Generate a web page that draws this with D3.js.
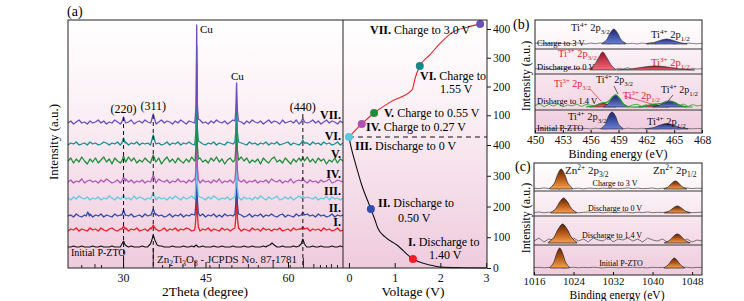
<!DOCTYPE html>
<meta charset="UTF-8">
<style>
body { margin: 0; background: #fff; }
svg text { font-family: "Liberation Serif", "Times New Roman", serif; }
</style>
<body>
<script src="https://d3js.org/d3.v7.min.js"></script>
<script>
// ---------------- data : panel (a) XRD ----------------
// baseline noise read off every 0.5 deg from 20 to 70
var noiseInit = [1,1,2,1,1,2,1,1,1,2, 1,1,2,1,1,1,2,1,1,1, 2,1,1,2,1,1,1,2,1,1, 1,2,1,1,2,1,1,1,2,1, 1,1,2,1,1,2,1,1,1,2,
                 1,1,1,2,1,1,2,1,1,1, 2,1,1,1,2,1,1,2,1,1, 1,2,1,1,1,2,1,1,2,1, 1,1,2,1,1,2,1,1,1,2, 1,1,2,1,1,1,2,1,1,2, 1];
var noiseI = [1,3,2,4,1,3,2,1,4,2, 3,1,4,2,1,3,4,2,1,3, 2,4,1,3,2,4,1,2,3,1, 4,2,3,1,2,4,1,3,2,4, 1,3,2,4,3,1,2,4,1,3,
              2,4,1,3,2,1,4,2,3,1, 3,2,4,1,3,2,1,4,2,3, 1,4,2,3,1,3,2,4,1,2, 3,1,4,2,3,1,2,4,1,3, 2,3,1,4,2,3,1,2,4,1, 2];
var noiseII = [2,3,1,4,2,1,3,2,4,1, 3,2,4,1,3,2,1,4,2,3, 1,3,2,4,1,2,3,1,4,2, 3,1,4,2,3,1,2,4,1,3, 2,4,1,3,2,4,3,1,2,4,
               1,3,2,4,1,3,1,4,2,3, 2,1,4,3,1,2,4,1,3,2, 4,1,3,2,4,2,1,3,4,1, 3,2,1,4,2,3,1,4,2,3, 1,4,2,3,1,2,4,1,3,2, 3];
var noiseIII = [3,1,4,2,5,3,2,4,1,3, 2,4,1,3,2,5,3,1,4,2, 4,2,3,1,5,2,4,3,1,3, 2,5,1,4,2,3,1,4,2,5, 3,1,4,2,3,5,2,1,4,3,
                1,4,2,5,3,1,3,2,4,1, 3,2,5,1,4,2,3,1,4,2, 5,3,1,4,2,3,5,1,2,4, 2,4,1,3,5,2,1,4,3,2, 4,1,3,2,5,1,4,2,3,1, 3];
var noiseIV = [2,4,1,3,2,5,1,3,4,2, 3,1,4,2,5,3,1,2,4,1, 3,5,2,4,1,3,2,4,1,3, 2,4,1,5,3,2,4,1,3,2, 5,2,3,1,4,2,5,3,1,4,
               2,3,1,4,2,5,1,3,2,4, 1,3,5,2,4,1,3,2,4,1, 3,2,4,1,5,3,2,4,1,3, 2,5,1,3,4,2,3,1,4,2, 3,1,4,2,3,5,1,2,4,3, 2];
var noiseV = [3,6,1,5,2,7,3,0,5,2, 6,1,4,7,2,5,0,6,3,1, 5,2,7,3,6,1,4,2,6,3, 1,5,2,6,0,4,7,2,5,1, 6,3,1,5,2,7,3,0,6,2,
              4,1,6,3,7,2,5,0,4,6, 2,5,1,7,3,6,1,4,2,5, 0,6,3,1,5,7,2,4,1,6, 3,0,5,2,6,4,1,7,2,5, 1,6,3,5,0,4,2,6,1,5, 3];
var noiseVI = [1,3,2,4,1,2,3,1,4,2, 3,1,2,4,3,1,3,2,4,1, 2,4,1,3,2,4,1,3,2,3, 1,4,2,3,1,2,4,1,3,2, 4,1,3,2,4,2,1,3,4,2,
               1,3,2,4,1,3,2,1,4,3, 2,4,1,3,2,1,4,2,3,1, 3,2,4,1,3,2,4,1,2,3, 4,1,3,2,1,4,2,3,1,4, 2,3,1,4,2,3,1,2,4,1, 3];
var noiseVII = [2,4,1,3,5,2,3,1,4,2, 3,5,2,4,1,3,2,5,3,1, 4,2,3,5,1,3,4,2,5,3, 2,4,1,3,5,2,4,3,1,4, 2,5,3,1,4,3,2,4,5,2,
                3,1,4,2,5,3,2,4,1,3, 5,2,4,3,1,4,2,5,3,2, 4,1,3,5,2,4,3,1,5,2, 3,4,2,5,1,3,4,2,3,5, 2,4,1,3,5,2,4,3,1,4, 2];

// peak clusters [2theta, intensity] for each pattern
var peaksInit = [[[29.6,2],[29.9,5],[30.1,7],[30.4,3],[30.8,1.5]],
  [[34.6,2],[35.0,4],[35.3,9],[35.5,13],[35.8,8],[36.2,3],[36.6,2]],
  [[42.9,1],[43.3,3],[43.7,1]],
  [[56.2,2],[56.7,3],[57.1,5],[57.5,3],[58.0,1]],
  [[62.0,2],[62.4,4],[62.7,9],[63.0,4],[63.4,1]]];
var peaksI = [[[29.8,3],[30.1,6],[30.4,3]], [[35.1,3],[35.5,7],[35.9,3]],
  [[43.1,4],[43.3,18],[43.4,100],[43.5,20],[43.7,5]], [[50.35,4],[50.5,14],[50.65,42],[50.8,14],[51.0,4]],
  [[62.4,3],[62.7,5],[63.0,3]]];
var peaksII = [[[23.3,2],[23.6,6],[23.9,2]], [[29.8,3],[30.1,8],[30.4,3]], [[35.1,3],[35.5,9],[35.9,3]],
  [[43.1,4],[43.3,18],[43.4,100],[43.5,20],[43.7,5]], [[50.35,4],[50.5,14],[50.65,42],[50.8,14],[51.0,4]],
  [[62.4,3],[62.7,6],[63.0,3]]];
var peaksIII = [[[29.8,3],[30.1,6],[30.4,3]], [[35.1,3],[35.5,8],[35.9,3]],
  [[43.1,4],[43.3,18],[43.4,100],[43.5,20],[43.7,5]], [[50.35,4],[50.5,14],[50.65,40],[50.8,14],[51.0,4]],
  [[62.4,3],[62.7,5],[63.0,3]]];
var peaksIV = [[[29.8,3],[30.1,7],[30.4,3]], [[35.1,3],[35.5,9],[35.9,3]],
  [[43.1,4],[43.3,18],[43.4,100],[43.5,20],[43.7,5]], [[50.35,4],[50.5,14],[50.65,42],[50.8,14],[51.0,4]],
  [[62.4,3],[62.7,6],[63.0,3]]];
var peaksV = [[[29.8,3],[30.1,8],[30.4,3]], [[35.1,3],[35.5,9],[35.9,3]],
  [[43.1,4],[43.3,18],[43.4,100],[43.5,20],[43.7,5]], [[50.35,4],[50.5,14],[50.65,43],[50.8,14],[51.0,4]],
  [[62.4,3],[62.7,7],[63.0,3]]];
var peaksVI = [[[29.8,3],[30.1,8],[30.4,3]], [[35.1,3],[35.5,11],[35.9,3]],
  [[43.1,4],[43.3,18],[43.4,100],[43.5,20],[43.7,5]], [[50.35,4],[50.5,14],[50.65,42],[50.8,14],[51.0,4]],
  [[62.4,3],[62.7,6],[63.0,3]]];
var peaksVII = [[[29.8,3],[30.1,8],[30.4,3]], [[35.1,3],[35.5,11],[35.9,3]],
  [[43.1,5],[43.3,20],[43.4,100],[43.5,22],[43.7,6]], [[50.35,4],[50.5,14],[50.65,42],[50.8,14],[51.0,4]],
  [[62.4,3],[62.7,7],[63.0,3]]];

var xrdLabels  = ["", "I.", "II.", "III.", "IV.", "V.", "VI.", "VII."];
var xrdOffsets = [20, 36, 50, 67, 84, 104, 122, 143];
var xrdColors  = ["#111111", "#ee1c25", "#2f4aa8", "#62c9e3", "#b155b5", "#1e8c3a", "#138f8c", "#6b4fbf"];
var xrdNoise   = [noiseInit, noiseI, noiseII, noiseIII, noiseIV, noiseV, noiseVI, noiseVII];
var xrdPeaks   = [peaksInit, peaksI, peaksII, peaksIII, peaksIV, peaksV, peaksVI, peaksVII];

var jcpdsPos     = [22.5, 24.9, 26.1, 30.1, 35.5, 37.2, 38.5, 40.9, 43.1, 45.8, 47.5, 49.8, 52.8, 54.6, 57.3, 60.4, 62.8, 64.7, 65.9, 67.0, 67.9, 69.0];
var jcpdsHeights = [3, 4, 3, 12, 20, 3, 4, 4, 7, 3, 4, 3, 4, 3, 7, 3, 10, 4, 3, 3, 4, 3];
var hklLabels = ["(220)", "(311)", "(440)"];
var hklPos    = [30.1, 35.5, 62.7];

// ---------------- data : voltage profile ----------------
var dischargeV   = [0.0, 0.06, 0.15, 0.28, 0.48, 0.57, 0.63, 0.79, 1.05, 1.4, 1.77, 2.0, 2.5, 3.0];
var dischargeCap = [426, 385, 336, 270, 192, 156, 130, 101, 75, 29, 10, 3, 1, 0];
var chargeV   = [0.0, 0.28, 0.55, 0.95, 1.38, 1.45, 1.55, 1.77, 2.0, 2.28, 2.6, 2.87];
var chargeCap = [24, 70, 108, 150, 188, 230, 271, 310, 351, 390, 407, 417];
// state markers: voltage, capacity, on which branch
var stateNames = ["I.", "II.", "III.", "IV.", "V.", "VI.", "VII."];
var stateV     = [1.40, 0.48, 0.0, 0.28, 0.55, 1.55, 2.87];
var stateCap   = [29, 192, 426, 70, 108, 271, 417];
var stateBranch = ["d", "d", "d", "c", "c", "c", "c"];
var stateColors = ["#ee1c25", "#2f4cb0", "#5fc6e0", "#b14fb3", "#1e8c3a", "#138a86", "#6a4fbf"];

// ---------------- data : XPS Ti 2p (b) ----------------
var tiRowLabels = ["Charge to 3 V", "Discharge to 0 V", "Disharge to 1.4 V", "Initial P-ZTO"];
var tiRowBase = [89, 63, 26, 4];
var tiNoise1 = [0.6,1.2,0.3,0.9,0.1,1.0,0.4,0.8,0.2,1.1, 0.5,0.0,0.9,0.3,1.0,0.6,0.2,0.8,0.4,1.1, 0.3,0.7,0.0,0.9,0.5,1.2,0.2,0.8,0.4,1.0, 0.1,0.7,0.3,0.9,0.5,0.2,0.8];
var tiNoise2 = [1.0,2.0,0.5,1.6,0.2,1.8,0.9,2.2,0.4,1.5, 1.1,0.3,1.9,0.8,2.1,0.6,1.4,0.2,1.7,1.0, 2.3,0.5,1.6,0.9,2.0,0.4,1.8,1.2,0.3,1.5, 2.0,0.7,1.3,0.2,1.7,0.9,1.4];
var tiNoise3 = [1.5,3.0,0.4,2.6,1.0,3.2,0.2,2.0,1.2,2.8, 0.5,2.4,1.8,0.3,2.2,1.0,3.0,0.6,1.6,2.5, 0.2,1.9,2.8,0.8,2.3,0.4,3.1,1.1,2.6,0.3, 2.2,1.4,3.0,0.6,2.4,1.0,2.0];
var tiNoise4 = [0.3,0.7,0.2,0.6,0.1,0.8,0.4,0.5,0.2,0.7, 0.3,0.6,0.1,0.8,0.4,0.2,0.7,0.3,0.6,0.2, 0.8,0.4,0.1,0.7,0.3,0.6,0.2,0.5,0.8,0.3, 0.6,0.1,0.7,0.4,0.2,0.6,0.3];
var tiNoise = [tiNoise1, tiNoise2, tiNoise3, tiNoise4];

var ti1a = [[457.2,0.5],[457.7,4],[458.1,11],[458.5,15],[458.9,11],[459.3,4],[459.8,0.5]];
var ti1b = [[462.0,0.2],[462.8,1.4],[463.5,3.6],[464.2,5],[464.9,3.6],[465.6,1.4],[466.4,0.2]];
var ti2a = [[455.9,0.5],[456.4,5],[456.9,13],[457.3,18],[457.7,13],[458.2,5],[458.7,0.5]];
var ti2b = [[458.8,0.1],[460.4,1.1],[461.7,2.9],[463.0,4],[464.3,2.9],[465.6,1.1],[467.2,0.1]];
var ti3a = [[455.9,0.1],[456.4,1.1],[456.9,2.9],[457.3,4],[457.7,2.9],[458.2,1.1],[458.7,0.1]];
var ti3b = [[457.4,0.4],[457.9,3.4],[458.3,8.8],[458.7,12],[459.1,8.8],[459.5,3.4],[460.0,0.4]];
var ti3c = [[461.2,0.1],[461.8,0.7],[462.3,1.8],[462.8,2.5],[463.3,1.8],[463.8,0.7],[464.4,0.1]];
var ti3d = [[462.7,0.2],[463.4,1.7],[463.9,4.4],[464.5,6],[465.1,4.4],[465.6,1.7],[466.3,0.2]];
var ti3fit = [[455.5,0],[456.4,1.1],[456.9,2.9],[457.3,4.2],[457.7,4.5],[458.0,6.3],[458.3,9.6],[458.7,12.2],[459.1,8.8],
              [459.5,3.4],[460.0,0.4],[460.5,0],[461.2,0.1],[461.8,0.7],[462.3,1.8],[462.8,2.8],[463.3,3.2],[463.8,4.3],
              [464.2,5.7],[464.5,6],[465.1,4.4],[465.6,1.7],[466.3,0.2],[467.0,0]];
var ti4a = [[457.1,0.5],[457.6,4.8],[457.9,12.4],[458.3,17],[458.7,12.4],[459.0,4.8],[459.5,0.5]];
var ti4b = [[461.9,0.2],[462.8,1.5],[463.5,4],[464.2,5.5],[464.9,4],[465.6,1.5],[466.5,0.2]];
// [profile, row, kind]
var tiPeaks = [[ti1a,0,"b"],[ti1b,0,"b"],[ti2a,1,"r"],[ti2b,1,"r"],[ti3a,2,"r"],[ti3b,2,"b"],[ti3c,2,"r"],[ti3d,2,"b"],[ti4a,3,"b"],[ti4b,3,"b"]];

// ---------------- data : XPS Zn 2p (c) ----------------
var znRowLabels = ["Charge to 3 V", "Discharge to 0 V", "Discharge to 1.4 V", "Initial P-ZTO"];
var znRowBase = [86, 62, 32, 7];
var znNoise1 = [0.8,0.3,1.1,0.5,0.9,0.2,0.7,1.0,0.4,0.8, 0.1,0.9,0.6,0.3,1.0,0.5,0.8,0.2,0.7,1.1, 0.4,0.9,0.3,0.6,1.0,0.2,0.8,0.5,0.9,0.3, 0.7,1.0,0.4,0.8,0.5];
var znNoise2 = [0.5,1.0,0.2,0.8,0.4,1.1,0.3,0.7,0.9,0.2, 0.6,1.0,0.4,0.8,0.1,0.9,0.5,0.3,1.0,0.6, 0.2,0.8,0.4,1.1,0.3,0.7,0.5,0.9,0.2,0.8, 0.4,1.0,0.3,0.6,0.8];
var znNoise3 = [2,5,1,4,3,6,1,3,5,2, 4,1,5,3,2,6,1,4,3,5, 2,4,1,5,3,2,4,1,3,5, 2,4,1,3,2];
var znNoise4 = [0.4,0.7,0.2,0.6,0.3,0.8,0.1,0.5,0.7,0.2, 0.6,0.3,0.8,0.4,0.1,0.7,0.5,0.2,0.6,0.4, 0.8,0.3,0.5,0.1,0.7,0.4,0.6,0.2,0.8,0.3, 0.5,0.7,0.2,0.6,0.4];
var znNoise = [znNoise1, znNoise2, znNoise3, znNoise4];

var zn1a = [[1019.2,0.6],[1020.1,5.6],[1020.8,14.6],[1021.5,20],[1022.2,14.6],[1022.9,5.6],[1023.8,0.6]];
var zn1b = [[1042.3,0.2],[1043.2,2.2],[1043.9,5.8],[1044.6,8],[1045.3,5.8],[1046.0,2.2],[1046.9,0.2]];
var zn2a = [[1019.4,0.5],[1020.4,4.2],[1021.2,11],[1022.0,15],[1022.8,11],[1023.6,4.2],[1024.6,0.5]];
var zn2b = [[1042.4,0.2],[1043.4,2],[1044.2,5.1],[1045.0,7],[1045.8,5.1],[1046.6,2],[1047.6,0.2]];
var zn3a = [[1018.9,0.6],[1020.0,5.4],[1020.9,13.9],[1021.8,19],[1022.7,13.9],[1023.6,5.4],[1024.7,0.6]];
var zn3b = [[1042.4,0.3],[1043.4,2.5],[1044.2,6.6],[1045.0,9],[1045.8,6.6],[1046.6,2.5],[1047.6,0.3]];
var zn4a = [[1019.25,0.6],[1020.0,5.6],[1020.6,14.6],[1021.2,20],[1021.8,14.6],[1022.4,5.6],[1023.15,0.6]];
var zn4b = [[1042.3,0.3],[1043.1,2.8],[1043.8,7.3],[1044.4,10],[1045.0,7.3],[1045.7,2.8],[1046.5,0.3]];
var znPeaks = [[zn1a,0],[zn1b,0],[zn2a,1],[zn2b,1],[zn3a,2],[zn3b,2],[zn4a,3],[zn4b,3]];

// ---------------- drawing ----------------
var svg = d3.select("body").append("svg").attr("width", 744).attr("height", 301);
var defs = svg.append("defs");
var fmt = d3.format("d");

function vGrad(id, stops) {
  var g = defs.append("linearGradient").attr("id", id).attr("x1", 0).attr("y1", 0).attr("x2", 0).attr("y2", 1);
  stops.forEach(function(s) { g.append("stop").attr("offset", s[0]).attr("stop-color", s[1]); });
}
vGrad("bgPink", [[0, "#ffffff"], [0.3, "#fcf3f7"], [1, "#efcbdd"]]);
vGrad("bgPink2", [[0, "#ffffff"], [1, "#efcbdd"]]);
vGrad("blueFill", [[0, "#1b2370"], [1, "#6680d4"]]);
vGrad("redFill", [[0, "#9a1224"], [1, "#f36a7a"]]);
vGrad("orangeFill", [[0, "#5a2406"], [0.5, "#b85a18"], [1, "#f7a24e"]]);

// rich text with superscripts / subscripts
function rich(sel, x, y, parts, size, fill) {
  var t = sel.append("text").attr("x", x).attr("y", y).attr("font-size", size)
    .attr("fill", fill || "#111").style("white-space", "pre");
  var shift = 0;
  parts.forEach(function(p) {
    var target = p[1] === "sup" ? -size * 0.38 : p[1] === "sub" ? size * 0.28 : 0;
    t.append("tspan").attr("dy", target - shift)
      .attr("font-size", p[1] ? size * 0.68 : size).text(p[0]);
    shift = target;
  });
  return t;
}
function tiLabel(ion, orb) { return [["Ti"], [ion, "sup"], [" 2p"], [orb, "sub"]]; }

function styleAxis(g, size) {
  g.select(".domain").remove();
  g.attr("font-family", "Liberation Serif, serif").attr("font-size", size);
  g.selectAll("text").attr("fill", "#111");
  g.selectAll("line").attr("stroke", "#111");
}

// ===== panel (a) left: XRD =====
var xA = d3.scaleLinear().domain([20, 70]).range([68, 343]);
var yA = d3.scaleLinear().domain([0, 248]).range([268, 20]);

svg.append("rect").attr("x", 68).attr("y", 20).attr("width", 275).attr("height", 248).attr("fill", "url(#bgPink)");
defs.append("clipPath").attr("id", "clipA").append("rect").attr("x", 68).attr("y", 20).attr("width", 275).attr("height", 248);
var gA = svg.append("g").attr("clip-path", "url(#clipA)");

// JCPDS sticks
gA.selectAll(".stick").data(jcpdsPos).enter().append("line")
  .attr("x1", function(d) { return xA(d); }).attr("x2", function(d) { return xA(d); })
  .attr("y1", yA(0)).attr("y2", function(d, i) { return yA(jcpdsHeights[i]); })
  .attr("stroke", "#222").attr("stroke-width", 1);

var lineA = d3.line().x(function(d) { return xA(d[0]); }).y(function(d) { return yA(d[1]); });
xrdNoise.forEach(function(noise, i) {
  var clusters = xrdPeaks[i];
  var pts = noise.map(function(v, k) { return [20 + k * 0.5, v]; }).filter(function(p) {
    return !clusters.some(function(c) { return p[0] >= c[0][0] && p[0] <= c[c.length - 1][0]; });
  });
  clusters.forEach(function(c) { pts = pts.concat(c); });
  pts.sort(function(a, b) { return a[0] - b[0]; });
  var off = xrdOffsets[i];
  gA.append("path").datum(pts.map(function(p) { return [p[0], p[1] + off]; }))
    .attr("d", lineA).attr("fill", "none").attr("stroke", xrdColors[i])
    .attr("stroke-width", i === 0 ? 1.1 : 1.3).attr("stroke-linejoin", "round");
});

// dashed reference lines + hkl labels
var hklTop = [117, 115, 114];
hklPos.forEach(function(p, i) {
  gA.append("line").attr("x1", xA(p)).attr("x2", xA(p)).attr("y1", hklTop[i]).attr("y2", yA(0))
    .attr("stroke", "#111").attr("stroke-width", 1).attr("stroke-dasharray", "4,3");
});
var hklY = [113, 110, 111];
hklLabels.forEach(function(t, i) {
  svg.append("text").attr("x", xA(hklPos[i])).attr("y", hklY[i]).attr("text-anchor", "middle")
    .attr("font-size", 12).text(t);
});
svg.append("text").attr("x", 200).attr("y", 33).attr("font-size", 11).text("Cu");
svg.append("text").attr("x", 231).attr("y", 80).attr("font-size", 11).text("Cu");

// roman numerals at right
xrdLabels.forEach(function(t, i) {
  if (!t) return;
  svg.append("text").attr("x", 341).attr("y", yA(xrdOffsets[i] + 6)).attr("text-anchor", "end")
    .attr("font-size", 12).attr("font-weight", "bold").text(t);
});
svg.append("text").attr("x", 71).attr("y", 256).attr("font-size", 10).text("Initial P-ZTO");
rich(svg, 157, 263, [["Zn"], ["2", "sub"], ["Ti"], ["3", "sub"], ["O"], ["8", "sub"], [" - JCPDS No. 87-1781"]], 11);

var axA = svg.append("g").attr("transform", "translate(0,268)")
  .call(d3.axisBottom(xA).tickValues([30, 45, 60]).tickFormat(fmt).tickSize(-6).tickPadding(5));
styleAxis(axA, 12);
svg.append("text").attr("x", 205).attr("y", 296).attr("text-anchor", "middle").attr("font-size", 13.5).text("2Theta (degree)");
svg.append("text").attr("transform", "translate(58,142) rotate(-90)").attr("text-anchor", "middle")
  .attr("font-size", 13).text("Intensity (a.u.)");
svg.append("text").attr("x", 67).attr("y", 16).attr("font-size", 14).text("(a)");

// ===== panel (a) right: voltage profile =====
var xV = d3.scaleLinear().domain([-0.13, 3.02]).range([343, 487]);
var capUp = d3.scaleLinear().domain([0, 400]).range([144, 29]);
var capLow = d3.scaleLinear().domain([0, 400]).range([268, 145]);

svg.append("rect").attr("x", 343).attr("y", 20).attr("width", 144).attr("height", 248).attr("fill", "url(#bgPink)");
defs.append("clipPath").attr("id", "clipV").append("rect").attr("x", 343).attr("y", 18).attr("width", 146).attr("height", 252);
var gV = svg.append("g").attr("clip-path", "url(#clipV)");

var dis = dischargeV.map(function(v, i) { return [v, dischargeCap[i]]; }).sort(function(a, b) { return a[0] - b[0]; });
var chg = chargeV.map(function(v, i) { return [v, chargeCap[i]]; });
gV.append("path").datum(dis)
  .attr("d", d3.line().x(function(d) { return xV(d[0]); }).y(function(d) { return capLow(d[1]); }).curve(d3.curveMonotoneX))
  .attr("fill", "none").attr("stroke", "#111").attr("stroke-width", 1.1);
gV.append("path").datum(chg)
  .attr("d", d3.line().x(function(d) { return xV(d[0]); }).y(function(d) { return capUp(d[1]); }).curve(d3.curveMonotoneX))
  .attr("fill", "none").attr("stroke", "#ee1c25").attr("stroke-width", 1.1);
gV.append("line").attr("x1", xV(0)).attr("x2", 487).attr("y1", capLow(426)).attr("y2", capLow(426))
  .attr("stroke", "#111").attr("stroke-width", 1.1).attr("stroke-dasharray", "5,4");

gV.selectAll(".state").data(stateV).enter().append("circle")
  .attr("cx", function(d) { return xV(d); })
  .attr("cy", function(d, i) { return stateBranch[i] === "d" ? capLow(stateCap[i]) : capUp(stateCap[i]); })
  .attr("r", 4).attr("fill", function(d, i) { return stateColors[i]; });

// state annotations
function stateText(x, y, num, rest) {
  var t = svg.append("text").attr("x", x).attr("y", y).attr("font-size", 12).style("white-space", "pre");
  if (num) t.append("tspan").attr("font-weight", "bold").text(num + " ");
  t.append("tspan").text(rest);
}
stateText(370, 34, "VII.", "Charge to 3.0 V");
stateText(420, 80, "VI.", "Charge to");
stateText(440, 93, "", "1.55 V");
stateText(384, 117, "V.", "Charge to 0.55 V");
stateText(366, 131, "IV.", "Charge to 0.27 V");
stateText(355, 150, "III.", "Discharge to 0 V");
stateText(378, 207, "II.", "Discharge to");
stateText(398, 222, "", "0.50 V");
stateText(408, 246, "I.", "Discharge to");
stateText(429, 259, "", "1.40 V");

var axVb = svg.append("g").attr("transform", "translate(0,268)")
  .call(d3.axisBottom(xV).tickValues([0, 1, 2, 3]).tickFormat(fmt).tickSize(-5).tickPadding(5));
styleAxis(axVb, 12);
var axVr1 = svg.append("g").attr("transform", "translate(487,0)")
  .call(d3.axisRight(capUp).tickValues([100, 200, 300, 400]).tickFormat(fmt).tickSize(4).tickPadding(2));
styleAxis(axVr1, 11.5);
var axVr2 = svg.append("g").attr("transform", "translate(487,0)")
  .call(d3.axisRight(capLow).tickValues([0, 100, 200, 300, 400]).tickFormat(fmt).tickSize(4).tickPadding(2));
styleAxis(axVr2, 11.5);
svg.append("text").attr("x", 413).attr("y", 296).attr("text-anchor", "middle").attr("font-size", 13.5).text("Voltage (V)");

// frames
svg.append("rect").attr("x", 68).attr("y", 20).attr("width", 419).attr("height", 248)
  .attr("fill", "none").attr("stroke", "#222").attr("stroke-width", 1);
svg.append("line").attr("x1", 343).attr("x2", 343).attr("y1", 20).attr("y2", 268).attr("stroke", "#222");

// ===== panel (b): Ti 2p =====
var xB = d3.scaleLinear().domain([450, 468]).range([535, 702]);
var yB = d3.scaleLinear().domain([0, 113]).range([133, 20]);
svg.append("rect").attr("x", 535).attr("y", 20).attr("width", 167).attr("height", 113).attr("fill", "url(#bgPink2)");
var gB = svg.append("g");
tiNoise.forEach(function(noise, r) {
  var base = tiRowBase[r];
  gB.append("path").datum(noise.map(function(v, k) { return [450 + k * 0.5, v]; }))
    .attr("d", d3.line().x(function(d) { return xB(d[0]); }).y(function(d) { return yB(base + d[1]); }))
    .attr("fill", "none").attr("stroke", r === 2 ? "#2a9a2a" : "#666").attr("stroke-width", 0.8);
});
tiPeaks.forEach(function(p) {
  var base = tiRowBase[p[1]];
  var area = d3.area().x(function(d) { return xB(d[0]); }).y0(yB(base)).y1(function(d) { return yB(base + d[1]); })
    .curve(d3.curveCatmullRom);
  gB.append("path").datum(p[0]).attr("d", area)
    .attr("fill", p[2] === "b" ? "url(#blueFill)" : "url(#redFill)")
    .attr("stroke", "#222").attr("stroke-width", 0.6);
});
gB.append("path").datum(ti3fit)
  .attr("d", d3.line().x(function(d) { return xB(d[0]); }).y(function(d) { return yB(tiRowBase[2] + d[1]); }).curve(d3.curveCatmullRom))
  .attr("fill", "none").attr("stroke", "#22a02a").attr("stroke-width", 1.2);

[49, 74, 110].forEach(function(y) {
  svg.append("line").attr("x1", 535).attr("x2", 702).attr("y1", y).attr("y2", y).attr("stroke", "#222").attr("stroke-width", 0.9);
});
var tiLabelY = [46, 70, 104, 131];
tiRowLabels.forEach(function(t, i) {
  svg.append("text").attr("x", 537).attr("y", tiLabelY[i]).attr("font-size", 8.5).text(t);
});
rich(svg, 571, 31, tiLabel("4+", "3/2"), 10.5);
rich(svg, 651, 38, tiLabel("4+", "1/2"), 10.5);
rich(svg, 558, 57, tiLabel("3+", "3/2"), 10.5, "#e8202a");
rich(svg, 651, 66, tiLabel("3+", "1/2"), 10.5, "#e8202a");
rich(svg, 554, 87, tiLabel("3+", "3/2"), 10, "#e8202a");
rich(svg, 596, 83, tiLabel("4+", "3/2"), 10);
rich(svg, 623, 99, tiLabel("3+", "1/2"), 10, "#e8202a");
rich(svg, 661, 93, tiLabel("4+", "1/2"), 10);
rich(svg, 568, 120, tiLabel("4+", "3/2"), 10.5);
rich(svg, 647, 125, tiLabel("4+", "1/2"), 10.5);
// leader lines
svg.append("line").attr("x1", 590).attr("y1", 89).attr("x2", 601).attr("y2", 101).attr("stroke", "#e8202a").attr("stroke-width", 0.7);
svg.append("line").attr("x1", 614).attr("y1", 86).attr("x2", 618).attr("y2", 94).attr("stroke", "#222").attr("stroke-width", 0.7);
svg.append("line").attr("x1", 624).attr("y1", 96).attr("x2", 652).attr("y2", 104).attr("stroke", "#e8202a").attr("stroke-width", 0.7);
svg.append("line").attr("x1", 673).attr("y1", 95).attr("x2", 668).attr("y2", 101).attr("stroke", "#222").attr("stroke-width", 0.7);

svg.append("rect").attr("x", 535).attr("y", 20).attr("width", 167).attr("height", 113)
  .attr("fill", "none").attr("stroke", "#222").attr("stroke-width", 1);
var axB = svg.append("g").attr("transform", "translate(0,133)")
  .call(d3.axisBottom(xB).tickValues([450, 453, 456, 459, 462, 465, 468]).tickFormat(fmt).tickSize(-3).tickPadding(3));
styleAxis(axB, 11.5);
svg.append("text").attr("x", 618).attr("y", 158).attr("text-anchor", "middle").attr("font-size", 12).text("Binding energy (eV)");
svg.append("text").attr("transform", "translate(530,76) rotate(-90)").attr("text-anchor", "middle")
  .attr("font-size", 12).text("Intensity (a.u.)");
svg.append("text").attr("x", 513).attr("y", 29).attr("font-size", 14).text("(b)");

// ===== panel (c): Zn 2p =====
var xC = d3.scaleLinear().domain([1016, 1050]).range([534, 702]);
var yC = d3.scaleLinear().domain([0, 112]).range([275, 163]);
svg.append("rect").attr("x", 534).attr("y", 163).attr("width", 168).attr("height", 112).attr("fill", "url(#bgPink2)");
var gC = svg.append("g");
znNoise.forEach(function(noise, r) {
  var base = znRowBase[r];
  gC.append("path").datum(noise.map(function(v, k) { return [1016 + k, v]; }))
    .attr("d", d3.line().x(function(d) { return xC(d[0]); }).y(function(d) { return yC(base + d[1]); }))
    .attr("fill", "none").attr("stroke", "#555").attr("stroke-width", 0.8);
});
znPeaks.forEach(function(p) {
  var base = znRowBase[p[1]];
  var area = d3.area().x(function(d) { return xC(d[0]); }).y0(yC(base)).y1(function(d) { return yC(base + d[1]); })
    .curve(d3.curveCatmullRom);
  gC.append("path").datum(p[0]).attr("d", area)
    .attr("fill", "url(#orangeFill)").attr("stroke", "#1a1a1a").attr("stroke-width", 0.7);
});
[191, 216, 245].forEach(function(y) {
  svg.append("line").attr("x1", 534).attr("x2", 702).attr("y1", y).attr("y2", y).attr("stroke", "#222").attr("stroke-width", 0.9);
});
var znLabelX = [615, 615, 612, 621];
var znLabelY = [186, 211, 238, 266];
znRowLabels.forEach(function(t, i) {
  svg.append("text").attr("x", znLabelX[i]).attr("y", znLabelY[i]).attr("text-anchor", "middle").attr("font-size", 8).text(t);
});
rich(svg, 565, 174, [["Zn"], ["2+", "sup"], [" 2p"], ["3/2", "sub"]], 11);
rich(svg, 653, 174, [["Zn"], ["2+", "sup"], [" 2p"], ["1/2", "sub"]], 11);
svg.append("rect").attr("x", 534).attr("y", 163).attr("width", 168).attr("height", 112)
  .attr("fill", "none").attr("stroke", "#222").attr("stroke-width", 1);
var axC = svg.append("g").attr("transform", "translate(0,275)")
  .call(d3.axisBottom(xC).tickValues([1016, 1024, 1032, 1040, 1048]).tickFormat(fmt).tickSize(-3).tickPadding(2));
styleAxis(axC, 11);
svg.append("text").attr("x", 617).attr("y", 298.5).attr("text-anchor", "middle").attr("font-size", 11.5).text("Binding energy (eV)");
svg.append("text").attr("transform", "translate(530,218) rotate(-90)").attr("text-anchor", "middle")
  .attr("font-size", 12).text("Intensity (a.u.)");
svg.append("text").attr("x", 515).attr("y", 171).attr("font-size", 14).text("(c)");
</script>
</body>
